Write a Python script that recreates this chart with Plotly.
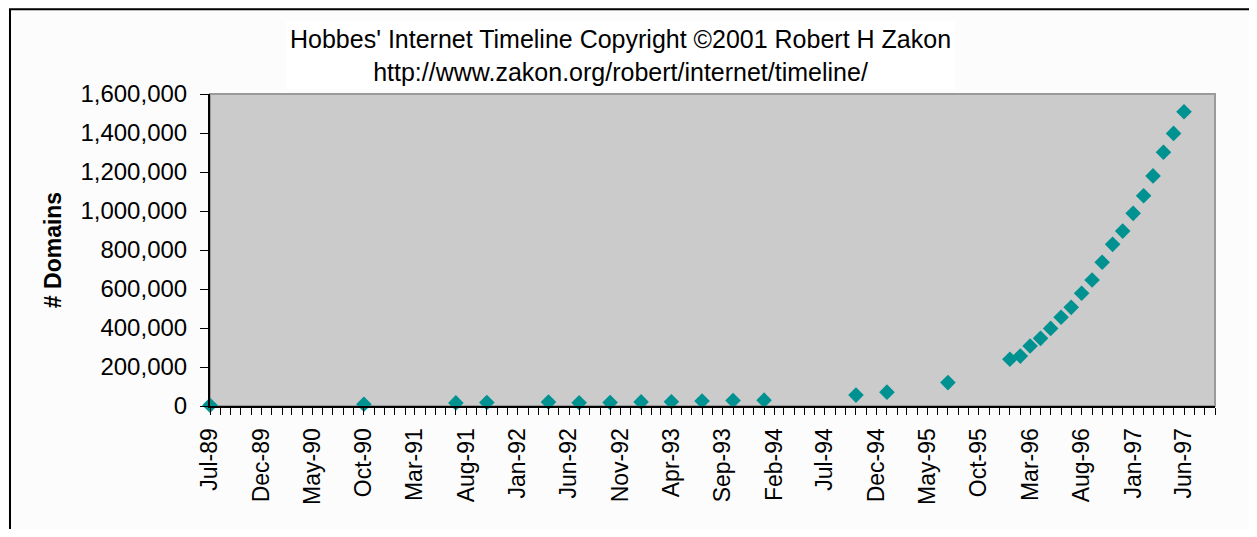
"""Hobbes' Internet Timeline: number of registered domains, Jul-89 to Jun-97."""
import plotly.graph_objects as go

# month of each survey and the domain count
months = [
    "1989-07-01", "1990-10-01", "1991-07-01", "1991-10-01", "1992-04-01",
    "1992-07-01", "1992-10-01", "1993-01-01", "1993-04-01", "1993-07-01",
    "1993-10-01", "1994-01-01", "1994-10-01", "1995-01-01", "1995-07-01",
    "1996-01-01", "1996-02-01", "1996-03-01", "1996-04-01", "1996-05-01",
    "1996-06-01", "1996-07-01", "1996-08-01", "1996-09-01", "1996-10-01",
    "1996-11-01", "1996-12-01", "1997-01-01", "1997-02-01", "1997-03-01",
    "1997-04-01", "1997-05-01", "1997-06-01",
]
domains = [
    3900, 9300, 16000, 18000, 20000,
    16300, 18100, 21000, 22000, 26000,
    28000, 30000, 56000, 71000, 120000,
    240000, 256000, 308000, 347000, 398000,
    455000, 506000, 578000, 646000, 737000,
    829000, 897000, 988000, 1078000, 1180000,
    1301000, 1398000, 1509000,
]
title_lines = [
    "Hobbes' Internet Timeline Copyright ©2001 Robert H Zakon",
    "http://www.zakon.org/robert/internet/timeline/",
]

FONT = "Liberation Sans, Arial, sans-serif"
TEAL = "#009191"

fig = go.Figure()
fig.add_trace(go.Scatter(
    x=months, y=domains, mode="markers",
    marker=dict(symbol="diamond", size=12, color=TEAL, line=dict(width=0)),
    cliponaxis=False, showlegend=False,
))

# gray frame round the plot area (top/right edges show; axes cover the rest)
fig.add_shape(
    type="rect", xref="paper", yref="paper", x0=0, y0=0, x1=1, y1=1,
    line=dict(color="#9a9a9a", width=2), layer="below",
)
# outer chart border, only left/top fall inside the picture
fig.add_shape(
    type="rect", xref="paper", yref="paper", x0=-0.199, y0=-0.6, x1=1.2, y1=1.272,
    line=dict(color="#000000", width=2), layer="below",
)

fig.add_annotation(
    xref="paper", yref="paper", x=0.408, y=1.125, xanchor="center", yanchor="middle",
    text="<br>".join(title_lines), showarrow=False, align="center",
    font=dict(family=FONT, size=25, color="#000000"),
    bgcolor="#ffffff", borderpad=3,
)

fig.update_xaxes(
    type="date", range=["1989-07-01", "1997-09-01"],
    tick0="1989-07-01", dtick="M5", tickformat="%b-%y", tickangle=-90,
    ticks="outside", ticklen=7, tickwidth=1, tickcolor="#000000",
    minor=dict(dtick="M1", ticks="outside", ticklen=7, tickwidth=1, tickcolor="#000000"),
    showline=True, linecolor="#000000", linewidth=2,
    showgrid=False, zeroline=False, ticklabelstandoff=4,
    tickfont=dict(family=FONT, size=23, color="#000000"),
)
fig.update_yaxes(
    range=[0, 1600000], dtick=200000, tickformat=",d",
    ticks="outside", ticklen=8, tickwidth=1, tickcolor="#000000",
    showline=True, linecolor="#000000", linewidth=2,
    showgrid=False, zeroline=False, ticklabelstandoff=8,
    tickfont=dict(family=FONT, size=24, color="#000000"),
    title=dict(text="<b># Domains</b>", standoff=12,
               font=dict(family=FONT, size=23, color="#000000")),
)

fig.update_layout(
    width=1241, height=521,
    margin=dict(l=202, r=34, t=86, b=123),
    plot_bgcolor="#cbcbcb", paper_bgcolor="#fcfcfc",
    font=dict(family=FONT),
)

fig.write_html("out.html")
